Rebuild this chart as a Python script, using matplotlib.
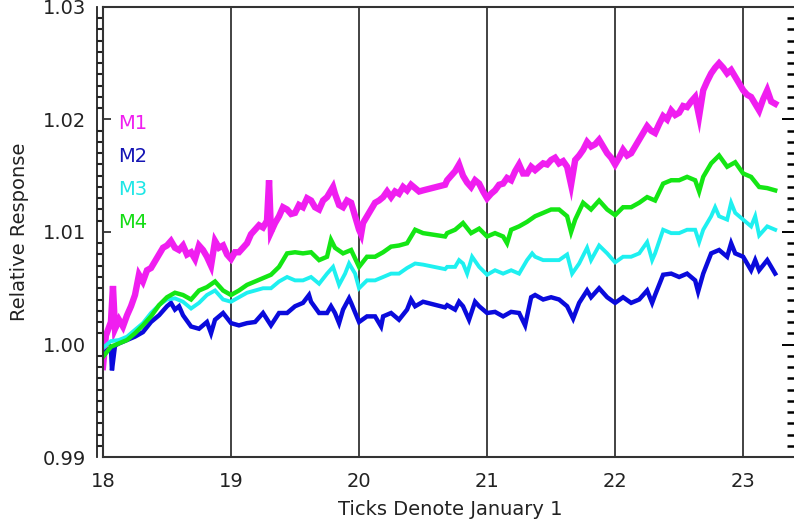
import matplotlib
matplotlib.use("Agg")
import matplotlib.pyplot as plt
from matplotlib.ticker import MultipleLocator

# relative response of the four channels, years since 1900
t_m1 = [18.0, 18.023, 18.062, 18.078, 18.094, 18.125, 18.156, 18.188, 18.219, 18.25,
        18.281, 18.312, 18.344, 18.375, 18.406, 18.438, 18.469, 18.5, 18.531, 18.562,
        18.594, 18.625, 18.656, 18.688, 18.719, 18.75, 18.781, 18.812, 18.844, 18.875,
        18.906, 18.938, 18.969, 19.0, 19.031, 19.062, 19.094, 19.125, 19.156, 19.188,
        19.219, 19.25, 19.281, 19.297, 19.312, 19.344, 19.375, 19.406, 19.438, 19.469,
        19.5, 19.531, 19.562, 19.594, 19.625, 19.656, 19.688, 19.719, 19.75, 19.781,
        19.797, 19.812, 19.844, 19.875, 19.906, 19.938, 19.969, 20.0, 20.016, 20.031,
        20.062, 20.094, 20.125, 20.156, 20.188, 20.219, 20.25, 20.281, 20.312, 20.344,
        20.375, 20.406, 20.438, 20.469, 20.5, 20.672, 20.688, 20.719, 20.75, 20.781,
        20.812, 20.844, 20.875, 20.906, 20.938, 20.969, 21.0, 21.031, 21.062, 21.094,
        21.125, 21.156, 21.188, 21.219, 21.25, 21.281, 21.312, 21.344, 21.375, 21.406,
        21.438, 21.469, 21.5, 21.531, 21.562, 21.594, 21.625, 21.656, 21.688, 21.719,
        21.75, 21.781, 21.812, 21.844, 21.875, 21.906, 21.938, 21.969, 22.0, 22.031,
        22.062, 22.094, 22.125, 22.156, 22.188, 22.219, 22.25, 22.281, 22.312, 22.344,
        22.375, 22.406, 22.438, 22.469, 22.5, 22.531, 22.562, 22.594, 22.625, 22.656,
        22.688, 22.719, 22.75, 22.781, 22.812, 22.844, 22.875, 22.906, 22.938, 22.969,
        23.0, 23.031, 23.062, 23.094, 23.125, 23.156, 23.188, 23.219, 23.25]
m1 = [0.9980, 1.0008, 1.0020, 1.0052, 1.0014, 1.0022, 1.0016, 1.0026, 1.0034, 1.0044,
      1.0062, 1.0056, 1.0066, 1.0068, 1.0074, 1.0080, 1.0086, 1.0088, 1.0092, 1.0086,
      1.0084, 1.0088, 1.0080, 1.0082, 1.0076, 1.0088, 1.0084, 1.0078, 1.0070, 1.0092,
      1.0086, 1.0088, 1.0080, 1.0076, 1.0082, 1.0082, 1.0086, 1.0090, 1.0098, 1.0102,
      1.0106, 1.0104, 1.0110, 1.0146, 1.0100, 1.0108, 1.0114, 1.0122, 1.0120, 1.0116,
      1.0117, 1.0124, 1.0122, 1.0130, 1.0128, 1.0122, 1.0120, 1.0128, 1.0131, 1.0137,
      1.0140, 1.0134, 1.0124, 1.0122, 1.0128, 1.0126, 1.0114, 1.0102, 1.0098, 1.0108,
      1.0114, 1.0120, 1.0126, 1.0128, 1.0131, 1.0136, 1.0131, 1.0136, 1.0134, 1.0140,
      1.0137, 1.0142, 1.0139, 1.0136, 1.0137, 1.0142, 1.0146, 1.0150, 1.0154, 1.0160,
      1.0150, 1.0144, 1.0140, 1.0146, 1.0143, 1.0136, 1.0130, 1.0134, 1.0137, 1.0142,
      1.0143, 1.0148, 1.0146, 1.0154, 1.0160, 1.0152, 1.0152, 1.0158, 1.0155, 1.0158,
      1.0161, 1.0160, 1.0164, 1.0166, 1.0161, 1.0163, 1.0158, 1.0142, 1.0164, 1.0168,
      1.0173, 1.0180, 1.0176, 1.0178, 1.0182, 1.0176, 1.0170, 1.0166, 1.0160, 1.0166,
      1.0173, 1.0168, 1.0170, 1.0176, 1.0182, 1.0188, 1.0194, 1.0190, 1.0188, 1.0196,
      1.0203, 1.0200, 1.0208, 1.0204, 1.0206, 1.0212, 1.0211, 1.0216, 1.0220, 1.0203,
      1.0226, 1.0234, 1.0241, 1.0246, 1.0250, 1.0246, 1.0241, 1.0244, 1.0238, 1.0232,
      1.0226, 1.0222, 1.0220, 1.0214, 1.0208, 1.0218, 1.0226, 1.0216, 1.0214]

t_m2 = [18.0, 18.062, 18.07, 18.094, 18.125, 18.188, 18.25, 18.312, 18.375, 18.438,
        18.5, 18.531, 18.562, 18.594, 18.625, 18.688, 18.75, 18.812, 18.844, 18.875,
        18.938, 19.0, 19.062, 19.125, 19.188, 19.25, 19.312, 19.375, 19.438, 19.5,
        19.562, 19.609, 19.625, 19.688, 19.75, 19.781, 19.812, 19.844, 19.875, 19.922,
        19.938, 20.0, 20.062, 20.125, 20.172, 20.188, 20.25, 20.312, 20.375, 20.406,
        20.438, 20.5, 20.672, 20.688, 20.75, 20.781, 20.812, 20.859, 20.906, 20.938,
        21.0, 21.062, 21.125, 21.188, 21.25, 21.297, 21.344, 21.375, 21.438, 21.5,
        21.562, 21.625, 21.672, 21.719, 21.781, 21.812, 21.875, 21.938, 22.0, 22.062,
        22.125, 22.188, 22.25, 22.289, 22.312, 22.375, 22.438, 22.5, 22.562, 22.625,
        22.648, 22.688, 22.75, 22.812, 22.875, 22.906, 22.938, 23.0, 23.062, 23.094,
        23.125, 23.188, 23.25]
m2 = [0.9992, 0.9997, 0.9977, 0.9999, 1.0001, 1.0004, 1.0007, 1.0011, 1.0020, 1.0026,
      1.0034, 1.0037, 1.0031, 1.0034, 1.0026, 1.0016, 1.0014, 1.0020, 1.0010, 1.0022,
      1.0028, 1.0019, 1.0017, 1.0019, 1.0020, 1.0028, 1.0017, 1.0028, 1.0028, 1.0034,
      1.0037, 1.0044, 1.0038, 1.0028, 1.0028, 1.0034, 1.0028, 1.0019, 1.0031, 1.0041,
      1.0037, 1.0020, 1.0025, 1.0025, 1.0016, 1.0025, 1.0028, 1.0022, 1.0031, 1.0040,
      1.0034, 1.0038, 1.0033, 1.0035, 1.0031, 1.0038, 1.0034, 1.0022, 1.0038, 1.0034,
      1.0028, 1.0029, 1.0025, 1.0029, 1.0028, 1.0017, 1.0042, 1.0044, 1.0040, 1.0042,
      1.0040, 1.0034, 1.0023, 1.0037, 1.0048, 1.0042, 1.0050, 1.0042, 1.0037, 1.0042,
      1.0037, 1.0040, 1.0048, 1.0037, 1.0044, 1.0062, 1.0063, 1.0060, 1.0063, 1.0057,
      1.0047, 1.0063, 1.0081, 1.0084, 1.0078, 1.0090, 1.0081, 1.0078, 1.0066, 1.0075,
      1.0066, 1.0075, 1.0063]

t_m3 = [18.0, 18.062, 18.125, 18.188, 18.25, 18.312, 18.375, 18.438, 18.5, 18.562,
        18.625, 18.688, 18.75, 18.812, 18.875, 18.938, 19.0, 19.062, 19.125, 19.188,
        19.25, 19.312, 19.375, 19.438, 19.5, 19.562, 19.625, 19.688, 19.75, 19.797,
        19.844, 19.891, 19.922, 19.969, 20.0, 20.062, 20.125, 20.188, 20.25, 20.312,
        20.375, 20.438, 20.5, 20.672, 20.688, 20.75, 20.781, 20.812, 20.844, 20.883,
        20.938, 21.0, 21.062, 21.125, 21.188, 21.25, 21.312, 21.352, 21.375, 21.438,
        21.5, 21.562, 21.625, 21.664, 21.719, 21.781, 21.812, 21.875, 21.938, 22.0,
        22.062, 22.125, 22.188, 22.25, 22.289, 22.312, 22.375, 22.438, 22.5, 22.562,
        22.625, 22.656, 22.688, 22.75, 22.781, 22.812, 22.875, 22.906, 22.938, 23.0,
        23.062, 23.094, 23.125, 23.188, 23.25]
m3 = [0.9997, 1.0003, 1.0004, 1.0007, 1.0013, 1.0019, 1.0028, 1.0035, 1.0040, 1.0041,
      1.0038, 1.0032, 1.0037, 1.0044, 1.0048, 1.0040, 1.0038, 1.0042, 1.0046, 1.0048,
      1.0050, 1.0050, 1.0056, 1.0060, 1.0057, 1.0057, 1.0060, 1.0054, 1.0063, 1.0069,
      1.0053, 1.0063, 1.0072, 1.0063, 1.0050, 1.0057, 1.0057, 1.0060, 1.0063, 1.0063,
      1.0068, 1.0072, 1.0071, 1.0067, 1.0069, 1.0069, 1.0075, 1.0072, 1.0063, 1.0078,
      1.0069, 1.0062, 1.0066, 1.0063, 1.0066, 1.0063, 1.0075, 1.0081, 1.0078, 1.0075,
      1.0075, 1.0075, 1.0080, 1.0063, 1.0072, 1.0086, 1.0075, 1.0088, 1.0081, 1.0073,
      1.0078, 1.0078, 1.0081, 1.0091, 1.0075, 1.0081, 1.0102, 1.0099, 1.0099, 1.0102,
      1.0102, 1.0091, 1.0102, 1.0114, 1.0122, 1.0114, 1.0111, 1.0126, 1.0117, 1.0111,
      1.0105, 1.0114, 1.0097, 1.0105, 1.0102]

t_m4 = [18.0, 18.062, 18.125, 18.188, 18.25, 18.312, 18.375, 18.438, 18.5, 18.562,
        18.625, 18.688, 18.75, 18.812, 18.875, 18.938, 19.0, 19.062, 19.125, 19.188,
        19.25, 19.312, 19.375, 19.438, 19.5, 19.562, 19.625, 19.688, 19.75, 19.781,
        19.812, 19.875, 19.938, 20.0, 20.062, 20.125, 20.188, 20.25, 20.312, 20.375,
        20.438, 20.5, 20.672, 20.688, 20.75, 20.812, 20.875, 20.938, 21.0, 21.062,
        21.125, 21.156, 21.188, 21.25, 21.312, 21.375, 21.438, 21.5, 21.562, 21.625,
        21.656, 21.688, 21.75, 21.812, 21.875, 21.938, 22.0, 22.062, 22.125, 22.188,
        22.25, 22.312, 22.375, 22.438, 22.5, 22.562, 22.625, 22.656, 22.688, 22.75,
        22.812, 22.875, 22.938, 23.0, 23.062, 23.125, 23.188, 23.25]
m4 = [0.9989, 0.9998, 1.0001, 1.0004, 1.0010, 1.0017, 1.0025, 1.0035, 1.0042, 1.0046,
      1.0044, 1.0040, 1.0048, 1.0051, 1.0056, 1.0048, 1.0044, 1.0048, 1.0053, 1.0056,
      1.0059, 1.0062, 1.0069, 1.0081, 1.0082, 1.0081, 1.0082, 1.0075, 1.0078, 1.0093,
      1.0086, 1.0081, 1.0084, 1.0069, 1.0078, 1.0078, 1.0082, 1.0087, 1.0088, 1.0090,
      1.0102, 1.0099, 1.0096, 1.0099, 1.0102, 1.0108, 1.0099, 1.0103, 1.0096, 1.0099,
      1.0096, 1.0090, 1.0102, 1.0105, 1.0109, 1.0114, 1.0117, 1.0120, 1.0120, 1.0114,
      1.0100, 1.0111, 1.0126, 1.0120, 1.0128, 1.0120, 1.0115, 1.0122, 1.0122, 1.0126,
      1.0131, 1.0128, 1.0143, 1.0146, 1.0146, 1.0149, 1.0146, 1.0136, 1.0149, 1.0161,
      1.0168, 1.0158, 1.0162, 1.0152, 1.0149, 1.0140, 1.0139, 1.0137]

labels = ["M1", "M2", "M3", "M4"]
colors = ["#f01ef0", "#0a0adc", "#1ef0f0", "#14e614"]
text_colors = ["#f01ef0", "#1414b4", "#1ee6e6", "#14dc14"]
widths = [4.6, 3.2, 2.8, 3.2]
year_ticks = [18, 19, 20, 21, 22, 23]

fig = plt.figure(figsize=(7.94, 5.25), dpi=100)
ax = fig.add_axes([0.1297, 0.1295, 0.874, 0.8572])

series = [(t_m1, m1), (t_m2, m2), (t_m3, m3), (t_m4, m4)]
for (t, v), c, w in zip(series, colors, widths):
    ax.plot(t, v, color=c, lw=w, solid_joinstyle="miter")

for yr in year_ticks[1:]:
    ax.axvline(yr, color="#222222", lw=1.2, zorder=0)

ax.set_xlim(18, 23.42)
ax.set_ylim(0.99, 1.03)
ax.set_xticks(year_ticks)
ax.set_xticklabels([str(y) for y in year_ticks])
ax.set_yticks([0.99, 1.00, 1.01, 1.02, 1.03])
ax.set_yticklabels(["0.99", "1.00", "1.01", "1.02", "1.03"])
ax.yaxis.set_minor_locator(MultipleLocator(0.001))

ax.tick_params(axis="x", length=0, pad=11, labelsize=14, colors="#222222")
ax.tick_params(axis="y", which="major", direction="in", length=6, width=1.2,
               labelsize=14, pad=12, right=False, colors="#222222")
ax.tick_params(axis="y", which="minor", direction="out", length=4.3, width=1.5,
               right=False, color="#222222")

# second rail of the left axis ladder
ax.axvline(18 - 6 / 128, color="#222222", lw=1.3, clip_on=False)

for s in ax.spines.values():
    s.set_linewidth(1.5)
    s.set_color("#333333")

# right-hand axis with inward ticks only
ax_r = ax.secondary_yaxis("right")
ax_r.set_yticks([0.99, 1.00, 1.01, 1.02, 1.03])
ax_r.yaxis.set_minor_locator(MultipleLocator(0.001))
ax_r.tick_params(which="major", direction="in", length=11, width=1.4, labelright=False)
ax_r.tick_params(which="minor", direction="in", length=7, width=1.8)

ax.set_xlabel("Ticks Denote January 1", fontsize=14, labelpad=6, color="#222222")
ax.set_ylabel("Relative Response", fontsize=14, labelpad=10, color="#222222")

for i, (lab, c) in enumerate(zip(labels, text_colors)):
    ax.text(0.022, 0.74 - i * 0.0733, lab, transform=ax.transAxes, color=c,
            fontsize=14, va="center", ha="left")

fig.savefig("out.png", dpi=100)
